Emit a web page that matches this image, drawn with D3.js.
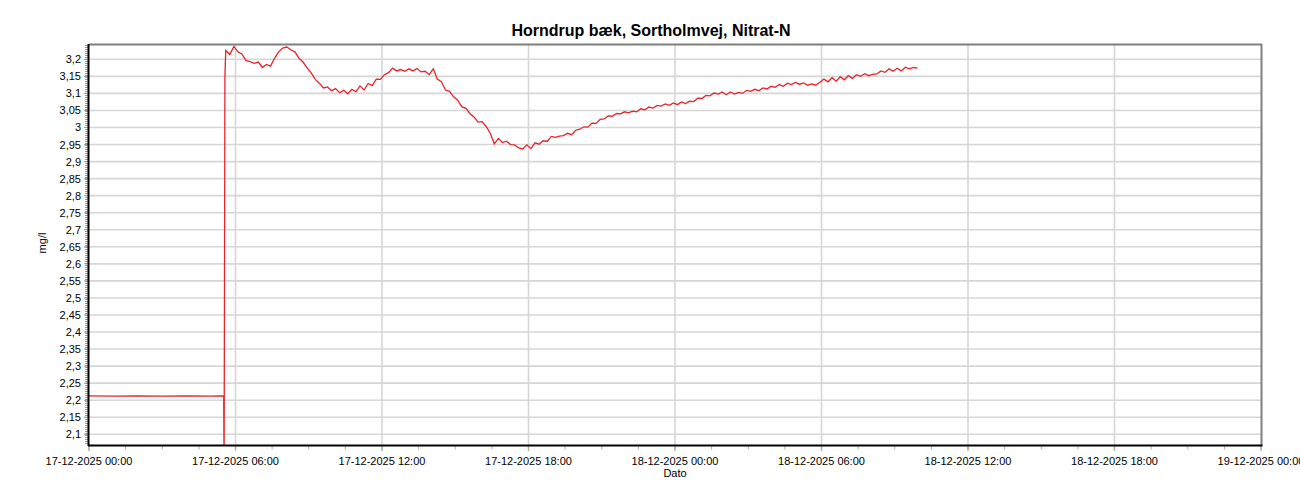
<!DOCTYPE html>
<html>
<head>
<meta charset="utf-8">
<script src="https://cdn.jsdelivr.net/npm/d3@7"></script>
<style>
  html, body { margin: 0; padding: 0; background: #fff; }
  svg { display: block; font-family: "Liberation Sans", Arial, sans-serif; }
</style>
</head>
<body>
<svg id="chart" width="1300" height="500"></svg>
<script>
// ---------------- DATA ----------------
const chartTitle = "Horndrup bæk, Sortholmvej, Nitrat-N";
const yAxisLabel = "mg/l";
const xAxisLabel = "Dato";

const xDomain = ["2025-12-17T00:00", "2025-12-19T00:00"];
const yDomain = [2.0686, 3.242];

const xTickTimes = [
  "2025-12-17T00:00", "2025-12-17T06:00", "2025-12-17T12:00", "2025-12-17T18:00",
  "2025-12-18T00:00", "2025-12-18T06:00", "2025-12-18T12:00", "2025-12-18T18:00",
  "2025-12-19T00:00"
];
const yTickValues = [2.1, 2.15, 2.2, 2.25, 2.3, 2.35, 2.4, 2.45, 2.5, 2.55, 2.6, 2.65,
  2.7, 2.75, 2.8, 2.85, 2.9, 2.95, 3, 3.05, 3.1, 3.15, 3.2];

// baseline period (minutes after 17-12-2025 00:00)
const baselineMinutes = [0, 60, 120, 180, 240, 300, 331];
const baselineValues  = [2.213, 2.212, 2.213, 2.212, 2.213, 2.212, 2.213];

// sensor restart: short drop then jump
const jumpMinutes = [332, 334];
const jumpValues  = [2.0, 3.15];

// main series: first reading at minute 336, then every 10 minutes
const mainStartMinute = 336;
const mainStepMinutes = 10;
const mainValues = [
  3.226, 3.214, 3.238, 3.222, 3.215, 3.196, 3.193, 3.188, 3.192, 3.176,
  3.185, 3.180, 3.203, 3.222, 3.233, 3.236, 3.228, 3.222, 3.203, 3.192,
  3.175, 3.160, 3.141, 3.130, 3.116, 3.119, 3.108, 3.114, 3.102, 3.109,
  3.099, 3.112, 3.105, 3.122, 3.110, 3.129, 3.123, 3.142, 3.141, 3.155,
  3.161, 3.174, 3.166, 3.170, 3.165, 3.172, 3.166, 3.173, 3.163, 3.165,
  3.155, 3.172, 3.142, 3.134, 3.110, 3.106, 3.090, 3.080, 3.061, 3.056,
  3.041, 3.031, 3.016, 3.017, 3.003, 2.983, 2.952, 2.968, 2.956, 2.960,
  2.950, 2.949, 2.940, 2.937, 2.949, 2.938, 2.955, 2.951, 2.961, 2.959,
  2.974, 2.971, 2.975, 2.976, 2.983, 2.979, 2.992, 2.995, 3.002, 3.001,
  3.013, 3.012, 3.024, 3.025, 3.034, 3.033, 3.041, 3.040, 3.046, 3.043,
  3.048, 3.046, 3.055, 3.052, 3.060, 3.057, 3.065, 3.063, 3.069, 3.065,
  3.072, 3.067, 3.075, 3.070, 3.077, 3.076, 3.086, 3.085, 3.094, 3.093,
  3.101, 3.098, 3.104, 3.096, 3.104, 3.098, 3.103, 3.100, 3.109, 3.106,
  3.112, 3.108, 3.116, 3.113, 3.121, 3.118, 3.126, 3.121, 3.130, 3.126,
  3.132, 3.127, 3.131, 3.124, 3.128, 3.124, 3.133, 3.142, 3.134, 3.146,
  3.136, 3.149, 3.140, 3.152, 3.144, 3.155, 3.150, 3.158, 3.152, 3.156,
  3.157, 3.166, 3.162, 3.172, 3.165, 3.174, 3.166, 3.177, 3.172, 3.176,
  3.174
];

// ---------------- BUILD ----------------
const parse = d3.timeParse("%Y-%m-%dT%H:%M");
const t0 = parse(xDomain[0]);
const atMinute = m => new Date(t0.getTime() + m * 60000);

const points = [];
baselineMinutes.forEach((m, i) => points.push({ t: atMinute(m), v: baselineValues[i] }));
jumpMinutes.forEach((m, i) => points.push({ t: atMinute(m), v: jumpValues[i] }));
mainValues.forEach((v, i) => points.push({ t: atMinute(mainStartMinute + i * mainStepMinutes), v }));

const plot = { left: 89, right: 1261, top: 45, bottom: 445 };

const x = d3.scaleTime().domain(xDomain.map(parse)).range([plot.left, plot.right]);
const y = d3.scaleLinear().domain(yDomain).range([plot.bottom, plot.top]);

const locale = d3.formatLocale({ decimal: ",", thousands: ".", grouping: [3], currency: ["", ""] });
const yFmt = locale.format(".2~f");
const xFmt = d3.timeFormat("%d-%m-%Y %H:%M");

const svg = d3.select("#chart");

// clip
svg.append("defs").append("clipPath").attr("id", "plotclip")
  .append("rect").attr("x", plot.left).attr("y", plot.top)
  .attr("width", plot.right - plot.left).attr("height", plot.bottom - plot.top);

// title
svg.append("text")
  .attr("x", 651).attr("y", 36)
  .attr("text-anchor", "middle")
  .attr("font-size", 16).attr("font-weight", "bold").attr("fill", "#000")
  .text(chartTitle);

// grid
const xMajor = xTickTimes.map(parse);
const grid = svg.append("g");
grid.selectAll("line.hg").data(yTickValues).join("line")
  .attr("x1", plot.left).attr("x2", plot.right)
  .attr("y1", d => y(d)).attr("y2", d => y(d))
  .attr("stroke", "#d6d6d6").attr("stroke-width", 1.6);
grid.selectAll("line.vg").data(xMajor.slice(1, -1)).join("line")
  .attr("x1", d => x(d)).attr("x2", d => x(d))
  .attr("y1", plot.top).attr("y2", plot.bottom)
  .attr("stroke", "#d6d6d6").attr("stroke-width", 1.6);

// frame: top and right grey
svg.append("line").attr("x1", plot.left).attr("x2", plot.right + 1)
  .attr("y1", plot.top - 0.5).attr("y2", plot.top - 0.5)
  .attr("stroke", "#7f7f7f").attr("stroke-width", 2);
svg.append("line").attr("x1", plot.right + 0.5).attr("x2", plot.right + 0.5)
  .attr("y1", plot.top - 1).attr("y2", plot.bottom)
  .attr("stroke", "#7f7f7f").attr("stroke-width", 2);

// data line
const line = d3.line().x(d => x(d.t)).y(d => y(d.v));
svg.append("path").datum(points)
  .attr("clip-path", "url(#plotclip)")
  .attr("fill", "none").attr("stroke", "#e8242b").attr("stroke-width", 1.3)
  .attr("stroke-linejoin", "miter")
  .attr("d", line);

// x axis ticks
const xMinor = d3.range(0, 48 * 60 + 1, 90).map(atMinute);
svg.append("g").selectAll("line").data(xMinor).join("line")
  .attr("x1", d => x(d)).attr("x2", d => x(d))
  .attr("y1", plot.bottom).attr("y2", plot.bottom + 4.5)
  .attr("stroke", "#b0b0b0").attr("stroke-width", 1);
svg.append("g").selectAll("line").data(xMajor).join("line")
  .attr("x1", d => x(d)).attr("x2", d => x(d))
  .attr("y1", plot.bottom).attr("y2", plot.bottom + 6)
  .attr("stroke", "#b0b0b0").attr("stroke-width", 1.5);
svg.append("g").selectAll("text").data(xMajor).join("text")
  .attr("x", d => x(d)).attr("y", 465)
  .attr("text-anchor", "middle").attr("font-size", 11).attr("fill", "#000")
  .text(d => xFmt(d));

// y axis minor dotted band
svg.append("line")
  .attr("x1", plot.left - 2.5).attr("x2", plot.left - 2.5)
  .attr("y1", plot.top).attr("y2", plot.bottom)
  .attr("stroke", "#9a9a9a").attr("stroke-width", 3).attr("stroke-dasharray", "1,1");
svg.append("g").selectAll("line").data(yTickValues).join("line")
  .attr("x1", plot.left - 5).attr("x2", plot.left)
  .attr("y1", d => y(d)).attr("y2", d => y(d))
  .attr("stroke", "#9a9a9a").attr("stroke-width", 1);
svg.append("g").selectAll("text").data(yTickValues).join("text")
  .attr("x", 81).attr("y", d => y(d) + 4)
  .attr("text-anchor", "end").attr("font-size", 11).attr("fill", "#000")
  .text(d => yFmt(d));

// axis lines (black)
svg.append("line").attr("x1", plot.left - 0.5).attr("x2", plot.left - 0.5)
  .attr("y1", plot.top - 1).attr("y2", plot.bottom + 1)
  .attr("stroke", "#000").attr("stroke-width", 2);
svg.append("line").attr("x1", plot.left - 1).attr("x2", plot.right + 1.5)
  .attr("y1", plot.bottom + 0.5).attr("y2", plot.bottom + 0.5)
  .attr("stroke", "#000").attr("stroke-width", 2);

// axis titles
svg.append("text")
  .attr("transform", "translate(46,243) rotate(-90)")
  .attr("text-anchor", "middle").attr("font-size", 11).attr("fill", "#000")
  .text(yAxisLabel);
svg.append("text")
  .attr("x", x(parse("2025-12-18T00:00"))).attr("y", 477)
  .attr("text-anchor", "middle").attr("font-size", 11).attr("fill", "#000")
  .text(xAxisLabel);
</script>
</body>
</html>
